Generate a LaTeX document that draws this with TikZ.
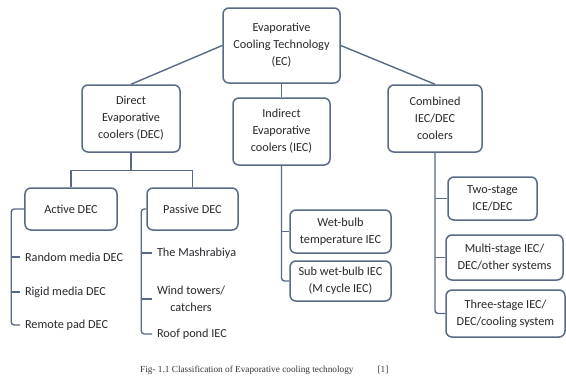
\documentclass[tikz,border=0pt]{standalone}
\usepackage{fontspec}
\setmainfont{Carlito}
\newfontfamily\capfont{Liberation Serif}
\usetikzlibrary{calc}
\definecolor{bcol}{RGB}{88,106,134}
\definecolor{tcol}{RGB}{40,40,45}
\tikzset{
  box/.style={draw=bcol, line width=1.5bp, rounded corners=6bp, fill=white,
    align=center, text=tcol, inner sep=0pt,
    font=\fontsize{12.3}{17}\selectfont},
  item/.style={text=tcol, inner sep=0pt, outer xsep=5bp, align=center,
    font=\fontsize{12.3}{17}\selectfont},
  conn/.style={draw=bcol, line width=1.4bp, rounded corners=3bp},
}
\begin{document}
\begin{tikzpicture}[x=1bp,y=-1bp]
\useasboundingbox (0,0) rectangle (566,388);
% main boxes
\node[box, minimum width=117bp, minimum height=75bp] (ec) at (281.5,45.5)
  {Evaporative\\Cooling Technology\\(EC)};
\node[box, minimum width=98bp, minimum height=67bp] (dec) at (131,118.5)
  {Direct\\Evaporative\\coolers (DEC)};
\node[box, minimum width=97bp, minimum height=67bp] (iec) at (281.5,131.5)
  {Indirect\\Evaporative\\coolers (IEC)};
\node[box, minimum width=94bp, minimum height=67bp] (cmb) at (435,118.5)
  {Combined\\IEC/DEC\\coolers};
% DEC children
\node[box, minimum width=92bp, minimum height=42bp] (act) at (71,209) {Active DEC};
\node[box, minimum width=91bp, minimum height=42bp] (pas) at (192.5,209) {Passive DEC};
% IEC children
\node[box, minimum width=101bp, minimum height=43bp] (wet) at (340.5,231.5)
  {Wet-bulb\\temperature IEC};
\node[box, minimum width=101bp, minimum height=40bp] (sub) at (340.5,281)
  {Sub wet-bulb IEC\\(M cycle IEC)};
% Combined children
\node[box, minimum width=89bp, minimum height=43bp] (two) at (492.5,198.5)
  {Two-stage\\ICE/DEC};
\node[box, minimum width=117bp, minimum height=45bp] (mul) at (504.5,257.5)
  {Multi-stage IEC/\\DEC/other systems};
\node[box, minimum width=119bp, minimum height=47bp] (thr) at (505.5,313.5)
  {Three-stage IEC/\\DEC/cooling system};
% Active items
\node[item, anchor=west] (rand) at (20,257) {Random media DEC};
\node[item, anchor=west] (rig) at (20,292) {Rigid media DEC};
\node[item, anchor=west] (rem) at (20,325) {Remote pad DEC};
% Passive items
\node[item, anchor=west] (mash) at (152,253) {The Mashrabiya};
\node[item, anchor=west] (wind) at (152,299) {Wind towers/\\catchers};
\node[item, anchor=west] (roof) at (152,334) {Roof pond IEC};
% caption
\node[anchor=west, inner sep=0pt, text=black!80, font=\capfont\fontsize{9.3}{11}\selectfont]
  (cap) at (140,370) {Fig- 1.1 Classification of Evaporative cooling technology\hspace{24bp}[1]};
% connectors top level
\draw[conn] (ec.west) -- (dec.north);
\draw[conn] (ec.east) -- (cmb.north);
\draw[conn] (ec.south) -- (iec.north);
% DEC tree
\coordinate (dj) at ($(dec.south)+(0,18)$);
\draw[conn, rounded corners=0pt] (dec.south) -- (dj);
\draw[conn, rounded corners=0pt] (act.north) |- (dj) -| (pas.north);
% Active bracket
\coordinate (ab) at ($(act.west)+(-13,0)$);
\draw[conn] (act.west) -- (ab) |- (rem.west);
\draw[conn] (ab |- rand.west) -- (rand.west);
\draw[conn] (ab |- rig.west) -- (rig.west);
% Passive bracket
\coordinate (pb) at ($(pas.west)+(-5,0)$);
\draw[conn] (pas.west) -- (pb) |- (roof.west);
\draw[conn] (pb |- mash.west) -- (mash.west);
\draw[conn] (pb |- wind.west) -- (wind.west);
% IEC bracket
\draw[conn] (iec.south) |- (sub.west);
\draw[conn] (iec.south |- wet.west) -- (wet.west);
% Combined bracket
\draw[conn] (cmb.south) |- (thr.west);
\draw[conn] (cmb.south |- two.west) -- (two.west);
\draw[conn] (cmb.south |- mul.west) -- (mul.west);
\end{tikzpicture}
\end{document}
